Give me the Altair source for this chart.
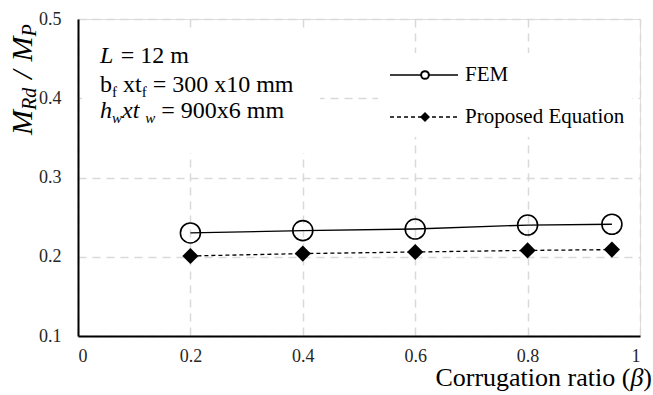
import altair as alt
import pandas as pd

beta = [0.2, 0.4, 0.6, 0.8, 0.95]
fem = [0.230, 0.233, 0.235, 0.240, 0.241]
proposed = [0.201, 0.204, 0.206, 0.208, 0.209]
x_ticks = [0, 0.2, 0.4, 0.6, 0.8, 1.0]
y_ticks = [0.1, 0.2, 0.3, 0.4, 0.5]

FONT = "Liberation Serif"
W, H = 562, 317

df = pd.DataFrame({"beta": beta, "fem": fem, "prop": proposed})

xs = alt.Scale(domain=[0, 1], nice=False, zero=False)
ys = alt.Scale(domain=[0.1, 0.5], nice=False, zero=False)

xax = alt.Axis(values=x_ticks, title=None, grid=True, gridColor="#d9d9d9", gridDash=[8, 6],
               gridWidth=1.5, ticks=False, domainColor="black", domainWidth=2,
               labelFont=FONT, labelFontSize=18, labelColor="#262626", labelPadding=11,
               labelExpr="datum.value == 1 ? '1' : datum.value == 0 ? '0' : format(datum.value, '.1f')")
yax = alt.Axis(values=y_ticks, title=None, grid=True, gridColor="#d9d9d9", gridDash=[8, 6],
               gridWidth=1.5, ticks=False, domainColor="black", domainWidth=2,
               labelFont=FONT, labelFontSize=18, labelColor="#262626", labelPadding=17,
               format=".1f")

base = alt.Chart(df)

fem_line = base.mark_line(color="black", strokeWidth=1.3).encode(
    x=alt.X("beta:Q", scale=xs, axis=xax), y=alt.Y("fem:Q", scale=ys, axis=yax))
fem_pts = base.mark_point(shape="circle", size=400, filled=False, color="black", strokeWidth=1.6, opacity=1).encode(
    x=alt.X("beta:Q", scale=xs), y=alt.Y("fem:Q", scale=ys))
prop_line = base.mark_line(color="black", strokeWidth=1.3, strokeDash=[4, 3]).encode(
    x=alt.X("beta:Q", scale=xs), y=alt.Y("prop:Q", scale=ys))
prop_pts = base.mark_point(shape="diamond", size=260, filled=True, color="black", opacity=1).encode(
    x=alt.X("beta:Q", scale=xs), y=alt.Y("prop:Q", scale=ys))

one = alt.Data(values=[{"a": 1}])


def txt(s, x, y, size, italic=False, angle=None, align="left", baseline="alphabetic"):
    kw = dict(text=s, font=FONT, fontSize=size, align=align, baseline=baseline, color="black")
    if italic:
        kw["fontStyle"] = "italic"
    if angle is not None:
        kw["angle"] = angle
    return alt.Chart(one).mark_text(**kw).encode(x=alt.value(x), y=alt.value(y))


def box(x1, x2, y1, y2):
    return alt.Chart(one).mark_rect(color="white").encode(
        x=alt.value(x1), x2=alt.value(x2), y=alt.value(y1), y2=alt.value(y2))


layers = [box(4, 242, 14, 134), box(300, 554, 34, 118), fem_line, prop_line, fem_pts, prop_pts]

# annotation text (spaces handled by explicit offsets)
S, s = 24, 15
sp = 0.25 * S
x0 = 22
# line 1
layers += [
    txt("L", x0, 44, S, italic=True),
    txt("= 12 m", x0 + 0.611 * S + sp, 44, S),
]
# line 2
p = x0
layers.append(txt("b", p, 73, S)); p += 0.5 * S
layers.append(txt("f", p, 78, s)); p += 0.333 * s + sp
layers.append(txt("xt", p, 73, S)); p += 0.778 * S
layers.append(txt("f", p, 78, s)); p += 0.333 * s + sp
layers.append(txt("= 300 x10 mm", p, 73, S))
# line 3
p = x0
layers.append(txt("h", p, 99, S, italic=True)); p += 0.5 * S
layers.append(txt("w", p, 104, s, italic=True)); p += 0.667 * s
layers.append(txt("xt", p, 99, S, italic=True)); p += 0.722 * S + sp
layers.append(txt("w", p, 104, s, italic=True)); p += 0.667 * s + sp
layers.append(txt("= 900x6 mm", p, 99, S))

# legend
layers += [
    alt.Chart(one).mark_rule(color="black", strokeWidth=1.3).encode(
        x=alt.value(312), x2=alt.value(380), y=alt.value(56)),
    alt.Chart(one).mark_point(shape="circle", size=60, filled=True, fill="white", stroke="black",
                              strokeWidth=2, opacity=1).encode(
        x=alt.value(347), y=alt.value(56)),
    alt.Chart(one).mark_rule(color="black", strokeWidth=1.3, strokeDash=[4, 3]).encode(
        x=alt.value(312), x2=alt.value(380), y=alt.value(98)),
    alt.Chart(one).mark_point(shape="diamond", size=100, filled=True, color="black", opacity=1).encode(
        x=alt.value(347), y=alt.value(98)),
    txt("FEM", 387, 56, 21, baseline="middle"),
    txt("Proposed Equation", 387, 98, 21, baseline="middle"),
]

# y axis title (rotated, reading upward)
T, t = 30, 20
bx = -46
q = 116
layers.append(txt("M", bx, q, T, italic=True, angle=270)); q -= 0.833 * T
layers.append(txt("Rd", bx + 4, q, t, italic=True, angle=270)); q -= 1.111 * t + 0.3 * T
layers.append(txt("/", bx, q, T, italic=True, angle=270)); q -= 0.278 * T + 0.3 * T
layers.append(txt("M", bx, q, T, italic=True, angle=270)); q -= 0.833 * T
layers.append(txt("P", bx + 4, q, t, italic=True, angle=270))

# x axis title
XT = 26
xr = 574
ty = 367
layers += [
    txt(")", xr, ty, XT, align="right"),
    txt("\u03b2", xr - 0.333 * XT, ty, XT, italic=True, align="right"),
    txt("Corrugation ratio (", xr - 0.333 * XT - 0.5 * XT, ty, XT, align="right"),
]

chart = alt.layer(*layers).properties(
    width=W, height=H,
    autosize=alt.AutoSizeParams(type="none"),
    padding={"left": 78, "top": 19, "right": 13, "bottom": 59},
).configure_view(stroke="black", strokeWidth=1.5).configure(
    background="white", font=FONT
)

chart.save("out.html", embed_options={"renderer": "svg", "actions": False})
